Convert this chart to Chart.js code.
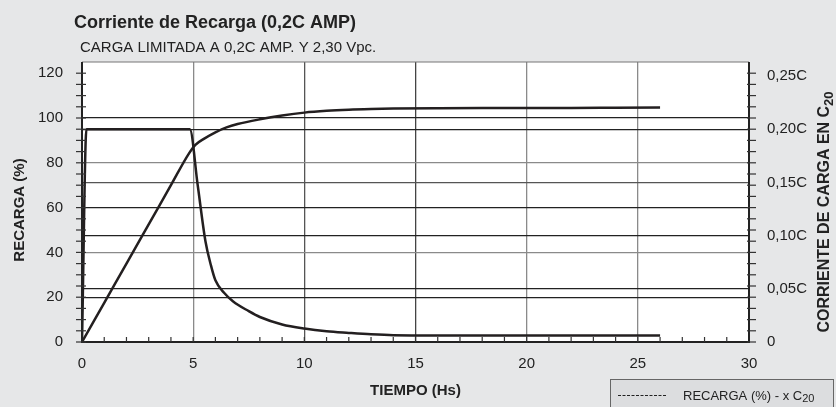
<!DOCTYPE html>
<html>
<head>
<meta charset="utf-8">
<script src="https://cdn.jsdelivr.net/npm/chart.js@4.4.1/dist/chart.umd.min.js"></script>
<style>
  html, body { margin: 0; padding: 0; background: #e6e7e8; }
  #wrap { width: 836px; height: 407px; position: relative; }
</style>
</head>
<body>
<div id="wrap"><canvas id="recargaChart"></canvas></div>
<script>
// Recarga (%) vs tiempo (left axis)
const recargaTiempo = [0, 1, 2, 3, 4, 4.8, 5.1, 5.5, 6, 6.5, 7, 8, 9, 10, 11, 12, 13, 14, 16, 18, 20, 22, 24, 26];
const recargaPct = [0, 17.5, 35, 52.5, 70, 84, 88, 90.8, 93.6, 95.8, 97.3, 99.4, 101.1, 102.4, 103.2, 103.7, 104.0, 104.2, 104.4, 104.5, 104.5, 104.5, 104.6, 104.7];

// Corriente de carga en C20 vs tiempo (right axis)
const corrienteTiempo = [0, 0.2, 4.85, 5.2, 5.55, 5.8, 6.0, 6.4, 6.8, 7.5, 8, 9, 10, 11, 12, 13, 14, 16, 20, 26];
const corrienteC = [0, 0.2, 0.2, 0.148, 0.095, 0.072, 0.058, 0.046, 0.038, 0.029, 0.0235, 0.0165, 0.0126, 0.0100, 0.0085, 0.0072, 0.0064, 0.0062, 0.0062, 0.0062];

// axis ticks
const xTicks = [0, 5, 10, 15, 20, 25, 30];
const leftTicks = [0, 20, 40, 60, 80, 100, 120];
const rightTicks = [0, 0.05, 0.10, 0.15, 0.20, 0.25];
const rightTickLabels = ['0', '0,05C', '0,10C', '0,15C', '0,20C', '0,25C'];

const FONT = "'Liberation Sans', Arial, Helvetica, sans-serif";
const INK = '#231f20';

// grid line colours (black / grey lines as in the print)
const xGridColor = {5: '#8a8a8a', 10: '#555', 15: '#444', 20: '#8a8a8a', 25: '#8a8a8a'};
const leftGridColor = {20: '#222', 40: '#8a8a8a', 60: '#222', 80: '#8a8a8a', 100: '#222'};
const rightGridColor = {0.05: '#222', 0.1: '#222', 0.15: '#555', 0.2: '#222'};

const decoPlugin = {
  id: 'deco',
  beforeDraw(chart) {
    const ctx = chart.ctx;
    const a = chart.chartArea;
    ctx.save();
    ctx.fillStyle = '#ffffff';
    ctx.fillRect(a.left, a.top, a.right - a.left, a.bottom - a.top);
    ctx.restore();
  },
  afterDraw(chart) {
    const ctx = chart.ctx;
    const a = chart.chartArea;
    const xs = chart.scales.x;
    const yl = chart.scales.y;
    ctx.save();

    // frame
    ctx.strokeStyle = '#777';
    ctx.lineWidth = 1.2;
    ctx.beginPath(); ctx.moveTo(a.left, a.top); ctx.lineTo(a.right, a.top); ctx.stroke();
    ctx.strokeStyle = '#222';
    ctx.lineWidth = 2;
    ctx.beginPath();
    ctx.moveTo(a.left, a.top); ctx.lineTo(a.left, a.bottom); ctx.lineTo(a.right, a.bottom); ctx.lineTo(a.right, a.top);
    ctx.stroke();

    // tick marks every 5 % on both sides, every hour at the bottom
    ctx.lineWidth = 1.2;
    ctx.strokeStyle = '#333';
    for (let v = 0; v <= 120; v += 5) {
      const y = yl.getPixelForValue(v);
      ctx.beginPath(); ctx.moveTo(a.left - 6, y); ctx.lineTo(a.left + 4, y); ctx.stroke();
      ctx.beginPath(); ctx.moveTo(a.right - 2, y); ctx.lineTo(a.right + 7, y); ctx.stroke();
    }
    for (let t = 1; t < 30; t++) {
      const x = xs.getPixelForValue(t);
      ctx.beginPath(); ctx.moveTo(x, a.bottom); ctx.lineTo(x, a.bottom - 5); ctx.stroke();
    }

    ctx.fillStyle = '#222';
    // titles
    ctx.textBaseline = 'middle';
    ctx.textAlign = 'left';
    ctx.font = 'bold 18px ' + FONT;
    ctx.fillText('Corriente de Recarga (0,2C AMP)', 74, 23);
    ctx.font = '15px ' + FONT;
    ctx.fillText('CARGA LIMITADA A 0,2C AMP. Y 2,30 Vpc.', 80, 48);

    // x axis title
    ctx.textAlign = 'center';
    ctx.font = 'bold 15px ' + FONT;
    ctx.fillText('TIEMPO (Hs)', (a.left + a.right) / 2, 391);

    // left axis title
    ctx.save();
    ctx.translate(20, 210);
    ctx.rotate(-Math.PI / 2);
    ctx.fillText('RECARGA (%)', 0, 0);
    ctx.restore();

    // right axis title with subscript
    ctx.save();
    ctx.translate(825, 212);
    ctx.rotate(-Math.PI / 2);
    const main = 'CORRIENTE DE CARGA EN C';
    ctx.font = 'bold 16px ' + FONT;
    const w1 = ctx.measureText(main).width;
    ctx.font = 'bold 13px ' + FONT;
    const w2 = ctx.measureText('20').width;
    const start = -(w1 + w2) / 2;
    ctx.textAlign = 'left';
    ctx.font = 'bold 16px ' + FONT;
    ctx.fillText(main, start, 0);
    ctx.font = 'bold 13px ' + FONT;
    ctx.fillText('20', start + w1, 4);
    ctx.restore();

    // legend box
    ctx.fillStyle = '#dcdddf';
    ctx.fillRect(610, 380, 224, 30);
    ctx.strokeStyle = '#666';
    ctx.lineWidth = 1;
    ctx.strokeRect(610.5, 379.5, 223, 30);
    ctx.strokeStyle = '#222';
    ctx.lineWidth = 1;
    ctx.setLineDash([3, 1.5]);
    ctx.beginPath(); ctx.moveTo(618, 395.5); ctx.lineTo(666, 395.5); ctx.stroke();
    ctx.setLineDash([]);
    ctx.fillStyle = '#222';
    ctx.textAlign = 'left';
    ctx.font = '13px ' + FONT;
    const lt = 'RECARGA (%) - x C';
    ctx.fillText(lt, 683, 396);
    const lw = ctx.measureText(lt).width;
    ctx.font = '11px ' + FONT;
    ctx.fillText('20', 683 + lw, 399);

    ctx.restore();
  }
};

const ctx = document.getElementById('recargaChart').getContext('2d');
new Chart(ctx, {
  type: 'line',
  data: {
    datasets: [
      {
        label: 'Recarga (%)',
        data: recargaTiempo.map((t, i) => ({x: t, y: recargaPct[i]})),
        yAxisID: 'y',
        borderColor: INK,
        borderWidth: 2.5,
        pointRadius: 0,
        fill: false,
        cubicInterpolationMode: 'monotone'
      },
      {
        label: 'Corriente (C20)',
        data: corrienteTiempo.map((t, i) => ({x: t, y: corrienteC[i]})),
        yAxisID: 'y1',
        borderColor: INK,
        borderWidth: 2.5,
        pointRadius: 0,
        fill: false,
        cubicInterpolationMode: 'monotone'
      }
    ]
  },
  options: {
    responsive: true,
    maintainAspectRatio: false,
    animation: false,
    layout: { padding: { top: 62, left: 0, right: 0, bottom: 0 } },
    plugins: { legend: { display: false }, tooltip: { enabled: false } },
    scales: {
      x: {
        type: 'linear',
        min: 0, max: 30,
        afterBuildTicks: s => { s.ticks = xTicks.map(v => ({value: v})); },
        afterFit: s => { s.height = 65; },
        border: { display: false },
        grid: {
          drawTicks: false,
          lineWidth: 1.3,
          color: c => xGridColor[c.tick.value] || 'rgba(0,0,0,0)'
        },
        ticks: { color: '#222', font: { family: FONT, size: 15 }, padding: 13, maxRotation: 0 }
      },
      y: {
        position: 'left',
        min: 0, max: 125,
        afterBuildTicks: s => { s.ticks = leftTicks.map(v => ({value: v})); },
        afterFit: s => { s.width = 82; },
        border: { display: false },
        grid: {
          drawTicks: false,
          lineWidth: 1.3,
          color: c => leftGridColor[c.tick.value] || 'rgba(0,0,0,0)'
        },
        ticks: { color: '#222', font: { family: FONT, size: 15 }, padding: 19 }
      },
      y1: {
        position: 'right',
        min: 0, max: 125 * 0.2 / 95,
        afterBuildTicks: s => { s.ticks = rightTicks.map(v => ({value: v})); },
        afterFit: s => { s.width = 87; },
        border: { display: false },
        grid: {
          drawTicks: false,
          lineWidth: 1.3,
          color: c => rightGridColor[Math.round(c.tick.value * 100) / 100] || 'rgba(0,0,0,0)'
        },
        ticks: {
          color: '#222',
          font: { family: FONT, size: 15 },
          padding: 18,
          callback: (v, i) => rightTickLabels[i]
        }
      }
    }
  },
  plugins: [decoPlugin]
});
</script>
</body>
</html>
